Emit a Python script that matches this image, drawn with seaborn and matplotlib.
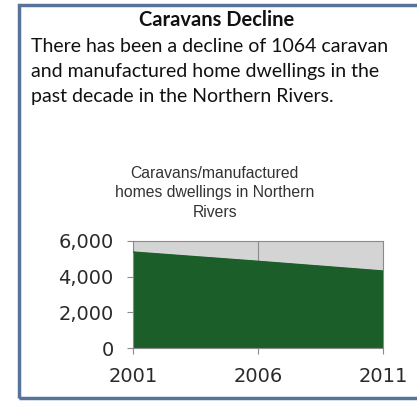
import matplotlib
matplotlib.use("Agg")
import matplotlib.pyplot as plt
import matplotlib.patches as patches
import pandas as pd
import seaborn as sns

# ------------------------------------------------------
# Data
# ------------------------------------------------------
years = [2001, 2006, 2011]
dwellings = [5380, 4860, 4316]
y_ticks = [0, 2000, 4000, 6000]
y_tick_labels = ["0", "2,000", "4,000", "6,000"]

heading = "Caravans Decline"
body_lines = [
    "There has been a decline of 1064 caravan",
    "and manufactured home dwellings in the",
    "past decade in the Northern Rivers.",
]
chart_title = "Caravans/manufactured\nhomes dwellings in Northern\nRivers"

df = pd.DataFrame({"year": years, "dwellings": dwellings})

sns.set_style("white")

fig = plt.figure(figsize=(4.17, 4.01), dpi=100)

# frame around the panel (right side runs off the picture)
frame = patches.Rectangle((18.5 / 417, 3 / 401), 1.2, (401 - 8) / 401,
                          transform=fig.transFigure, fill=False,
                          edgecolor="#56739a", linewidth=2.5, zorder=0)
fig.patches.append(frame)

fig.text(0.52, 1 - 20 / 401, heading, ha="center", va="center",
         fontsize=14.5, fontweight="bold", family="Lato", color="#111111")
for i, line in enumerate(body_lines):
    fig.text(31 / 417, 1 - (46.5 + 25 * i) / 401, line, ha="left", va="center",
             fontsize=14, family="Lato", color="#111111")

fig.text(0.515, 1 - 193 / 401, chart_title, ha="center", va="center",
         fontsize=11.3, family="Liberation Sans", color="#333333",
         linespacing=1.38)

ax = fig.add_axes([133 / 417, (401 - 348) / 401, 250 / 417, 107 / 401])
ax.set_facecolor("#d4d4d4")
ax.fill_between(df["year"], df["dwellings"], color="#1b5e2a", zorder=2)
sns.lineplot(data=df, x="year", y="dwellings", ax=ax, color="#1b5e2a",
             linewidth=1, zorder=3)
ax.axvline(2006, color="#8a8a8a", linewidth=0.8, zorder=1)

ax.set_xlim(2001, 2011)
ax.set_ylim(0, 6000)
ax.set_xticks(years)
ax.set_xticklabels([str(y) for y in years])
ax.set_yticks(y_ticks)
ax.set_yticklabels(y_tick_labels)
ax.set_xlabel("")
ax.set_ylabel("")
ax.tick_params(axis="both", which="both", length=4, width=0.8,
               color="#8a8a8a", labelsize=14, labelcolor="#2a2a2a",
               direction="out", left=True, bottom=True)
ax.tick_params(axis="x", pad=10)
ax.tick_params(axis="y", pad=10)
for spine in ax.spines.values():
    spine.set_color("#8a8a8a")
    spine.set_linewidth(0.8)

fig.savefig("out.png", dpi=100)
plt.close(fig)
